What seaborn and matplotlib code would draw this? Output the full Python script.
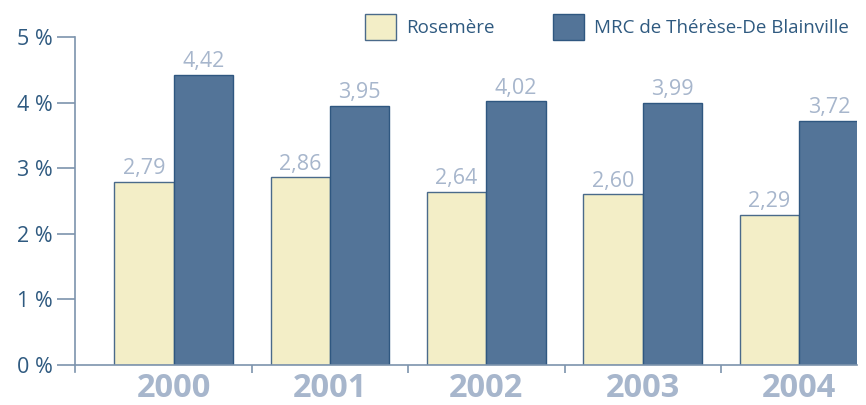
import numpy as np
import pandas as pd
import seaborn as sns
import matplotlib.pyplot as plt
from matplotlib.patches import Patch

# ----------------------------- data ------------------------------
years = ["2000", "2001", "2002", "2003", "2004"]
series = ["Rosemère", "MRC de Thérèse-De Blainville"]
rosemere = [2.79, 2.86, 2.64, 2.60, 2.29]
mrc = [4.42, 3.95, 4.02, 3.99, 3.72]
y_ticks = [0, 1, 2, 3, 4, 5]

df = pd.DataFrame({
    "year": years * 2,
    "series": [series[0]] * len(years) + [series[1]] * len(years),
    "value": rosemere + mrc,
})

# ----------------------------- style -----------------------------
sns.set_style("white")
plt.rcParams["font.family"] = ["Open Sans", "DejaVu Sans"]
fills = {series[0]: "#f3eec7", series[1]: "#537498"}
edges = {series[0]: "#4a6a8a", series[1]: "#2f5780"}
dark = "#2f5a80"
light = "#a7b6cc"
axis_col = "#7d94ad"

fig = plt.figure(figsize=(8.66, 4.05), dpi=100)
ax = fig.add_axes([75 / 866, 40 / 405, 782 / 866, 328 / 405])

sns.barplot(data=df, x="year", y="value", hue="series", order=years,
            hue_order=series, palette=fills, width=0.76, gap=0,
            saturation=1, legend=False, ax=ax)

for cont, s in zip(ax.containers, series):
    for bar in cont:
        bar.set_edgecolor(edges[s])
        bar.set_linewidth(1.0)
    ax.bar_label(cont, labels=[f"{v:.2f}".replace(".", ",") for v in cont.datavalues],
                 padding=2, color=light, fontsize=15.5)

ax.set_xlim(-0.63, 4.37)
ax.set_ylim(0, 5)
ax.set_yticks(y_ticks)
ax.set_yticklabels([f"{t} %" for t in y_ticks], color=dark, fontsize=15.5)
ax.tick_params(axis="y", direction="out", length=13, width=1.2, color=axis_col, pad=3, left=True)

ax.set_xticks(range(len(years)))
ax.set_xticklabels(years, color=light, fontsize=23.5, fontweight="bold")
ax.tick_params(axis="x", length=0, pad=5)
ax.set_xticks(np.arange(0.5, 4.5, 1), minor=True)
ax.tick_params(axis="x", which="minor", direction="out", length=6, width=1.2, color=axis_col, bottom=True)
ax.set_xlabel("")
ax.set_ylabel("")

for side in ["top", "right"]:
    ax.spines[side].set_visible(False)
for side in ["left", "bottom"]:
    ax.spines[side].set_color(axis_col)
    ax.spines[side].set_linewidth(1.2)
ax.spines["left"].set_bounds(-0.11, 5)

handles = [Patch(facecolor=fills[s], edgecolor=edges[s], label=s) for s in series]
leg = fig.legend(handles=handles, ncol=2, loc="upper left", bbox_to_anchor=(354 / 866, 1.0 - 3 / 405),
                 frameon=False, fontsize=13.5, handlelength=1.65, handleheight=1.75,
                 columnspacing=3.1, handletextpad=0.55, borderaxespad=0.2)
for t in leg.get_texts():
    t.set_color(dark)

fig.savefig("out.png", dpi=100)
